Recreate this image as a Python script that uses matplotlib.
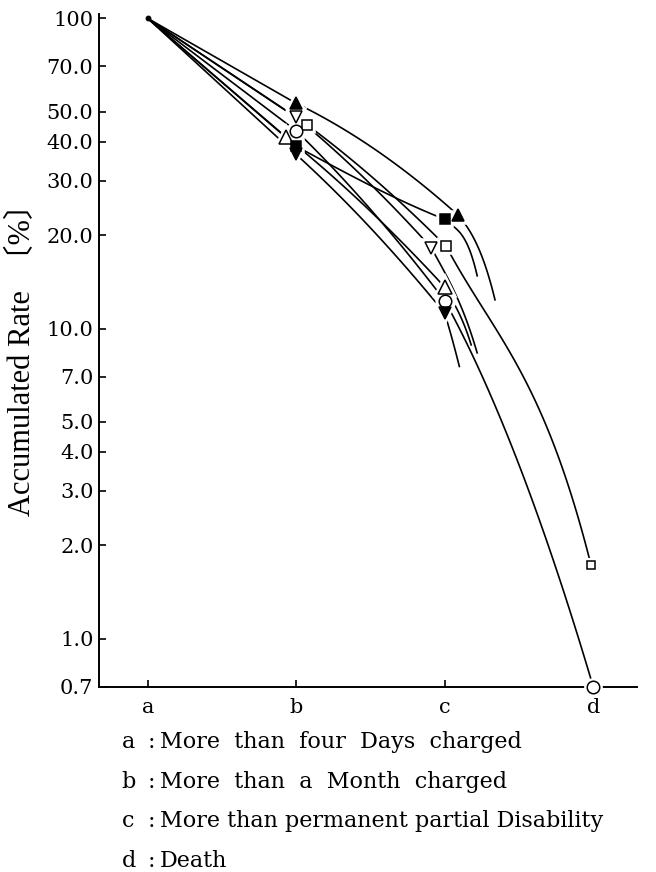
import numpy as np
import matplotlib.pyplot as plt

# stages on the x axis
stages = ["a", "b", "c", "d"]
stage_notes = [
    "More  than  four  Days  charged",
    "More  than  a  Month  charged",
    "More than permanent partial Disability",
    "Death",
]

# accumulated rate (%) at each stage, None where no mark is drawn
filled_up = [100, 53.2, 23.2, None]
open_down = [100, 48.0, 18.2, None]
open_square = [100, 45.3, 18.4, 1.73]
open_circle = [100, 43.4, 12.3, 0.70]
open_up = [100, 41.5, 13.6, None]
filled_square = [100, 38.7, 22.5, None]
filled_down = [100, 36.4, 11.2, None]

# where the free-hand curves after stage c stop (stage position, rate)
tail_filled_up = (2.34, 12.3)
tail_open_down = (2.22, 8.3)
tail_open_up = (2.18, 8.8)
tail_filled_square = (2.22, 14.7)
tail_filled_down = (2.10, 7.5)

y_ticks = [0.7, 1, 2, 3, 4, 5, 7, 10, 20, 30, 40, 50, 70, 100]
y_tick_labels = ["0.7", "1.0", "2.0", "3.0", "4.0", "5.0", "7.0",
                 "10.0", "20.0", "30.0", "40.0", "50.0", "70.0", "100"]

SERIF = "DejaVu Serif"
FS = 15


def arc(x0, y0, x1, y1, k0=1.0, k1=1.0, n=80):
    # one hand-drawn segment: cubic hermite in log space,
    # end slopes given as multiples of the straight slope
    l0, l1 = np.log10(y0), np.log10(y1)
    h = x1 - x0
    s = (l1 - l0) / h
    t = np.linspace(0, 1, n)
    seg = ((2 * t**3 - 3 * t**2 + 1) * l0 + (t**3 - 2 * t**2 + t) * h * k0 * s
           + (-2 * t**3 + 3 * t**2) * l1 + (t**3 - t**2) * h * k1 * s)
    return x0 + t * h, 10 ** seg


# (values, tail, marker, filled, size, x nudge at b, x nudge at c,
#  bend b->c, bend after c)
series = [
    (filled_up, tail_filled_up, "^", True, 8, 0.0, 0.09, (0.7, 1.3), (0.5, 1.8)),
    (open_down, tail_open_down, "v", False, 9, 0.0, -0.09, (0.85, 1.15), (0.8, 1.5)),
    (open_square, None, "s", False, 6.5, 0.075, 0.01, (0.85, 1.15), (0.85, 1.8)),
    (open_circle, None, "o", False, 9, 0.0, 0.0, (0.85, 1.15), (0.7, 1.3)),
    (open_up, tail_open_up, "^", False, 10, -0.07, 0.0, (0.85, 1.15), (0.8, 1.5)),
    (filled_square, tail_filled_square, "s", True, 7, 0.0, 0.0, (1.1, 0.8), (0.55, 2.5)),
    (filled_down, tail_filled_down, "v", True, 8, 0.0, 0.0, (0.85, 1.15), (0.9, 1.1)),
]

fig = plt.figure(figsize=(6.56, 8.72), dpi=100)
ax = fig.add_axes([99 / 656, 1 - 686.7 / 872, (637 - 99) / 656, (686.7 - 14) / 872])
ax.set_yscale("log")
ax.set_ylim(0.7, 103.3)
ax.set_xlim(-0.328, 3.295)

for vals, tail, mk, filled, ms, nb, nc, bend_bc, bend_tail in series:
    xb, xc = 1.0 + nb, 2.0 + nc
    pieces = [arc(0.0, vals[0], xb, vals[1]),
              arc(xb, vals[1], xc, vals[2], *bend_bc)]
    if vals[3] is not None:
        xd = 3.0 if mk == "o" else 2.985
        pieces.append(arc(xc, vals[2], xd, vals[3], *bend_tail))
    else:
        pieces.append(arc(xc, vals[2], tail[0], tail[1], *bend_tail))
    for px, py in pieces:
        ax.plot(px, py, color="black", lw=1.2, zorder=2, solid_capstyle="butt")

    mx, my = [xb, xc], [vals[1], vals[2]]
    ax.plot(mx, my, ls="none", marker=mk, ms=ms + 1.5, mfc="white",
            mec="white", mew=4, zorder=5, clip_on=False)
    ax.plot(mx, my, ls="none", marker=mk, ms=ms, mfc="black" if filled else "white",
            mec="black", mew=1.1, zorder=6, clip_on=False)
    if vals[3] is not None:
        dms = ms if mk == "o" else 5.5
        ax.plot([xd], [vals[3]], ls="none", marker=mk, ms=dms + 1.5, mfc="white",
                mec="white", mew=3, zorder=5, clip_on=False)
        ax.plot([xd], [vals[3]], ls="none", marker=mk, ms=dms, mfc="white",
                mec="black", mew=1.1, zorder=6, clip_on=False)

# common starting point at stage a
ax.plot([0], [100], ls="none", marker="o", ms=3.2, color="black", zorder=6)

for side in ["top", "right"]:
    ax.spines[side].set_visible(False)
for side in ["left", "bottom"]:
    ax.spines[side].set_linewidth(1.4)

ax.set_yticks(y_ticks)
ax.set_yticklabels(y_tick_labels, fontfamily=SERIF, fontsize=FS)
ax.yaxis.set_minor_locator(plt.NullLocator())
ax.set_xticks(range(len(stages)))
ax.set_xticklabels(stages, fontfamily=SERIF, fontsize=FS)
ax.tick_params(axis="y", direction="in", length=5, width=1.2, pad=4)
ax.tick_params(axis="x", direction="in", length=5, width=1.2, pad=8)

fig.text(22 / 656, 1 - 352 / 872, "Accumulated Rate  〔%〕", rotation=90,
         ha="center", va="center", fontsize=22,
         family=["Liberation Serif", "Noto Sans CJK JP"])

for i, note in enumerate(stage_notes):
    yb = 1 - (748 + 39.6 * i) / 872
    fig.text(121.5 / 656, yb, stages[i], fontfamily=SERIF, fontsize=16, va="baseline")
    fig.text(148 / 656, yb, ":", fontfamily=SERIF, fontsize=16, va="baseline")
    fig.text(160 / 656, yb, note, fontfamily=SERIF, fontsize=16, va="baseline")

fig.savefig("out.png", dpi=100)
